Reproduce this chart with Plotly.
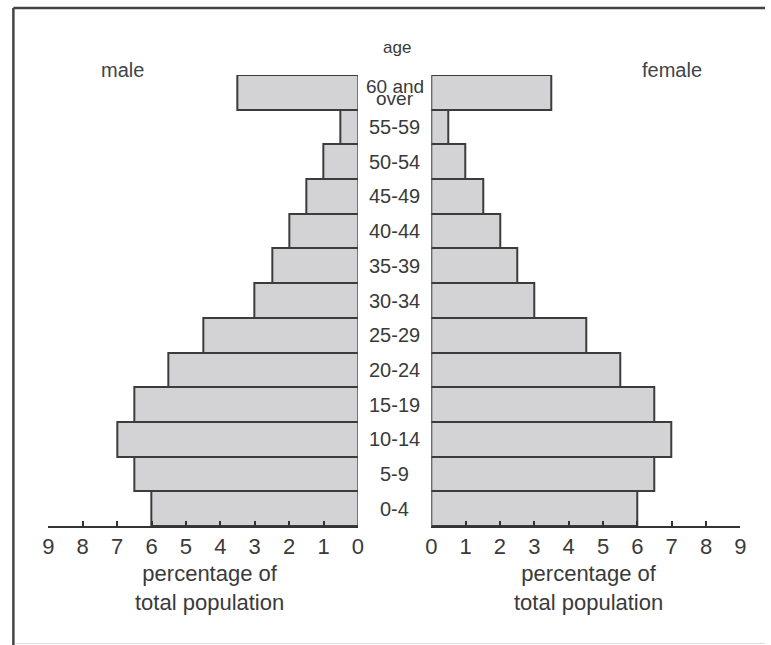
import plotly.graph_objects as go

# Population pyramid: share of total population by age group and sex
age_groups = ["0-4", "5-9", "10-14", "15-19", "20-24", "25-29", "30-34",
              "35-39", "40-44", "45-49", "50-54", "55-59", "60 and over"]
male_pct = [6, 6.5, 7, 6.5, 5.5, 4.5, 3, 2.5, 2, 1.5, 1, 0.5, 3.5]
female_pct = [6, 6.5, 7, 6.5, 5.5, 4.5, 3, 2.5, 2, 1.5, 1, 0.5, 3.5]
tick_values = list(range(10))

W, H = 771, 645
FONT = "Liberation Sans, Arial, sans-serif"
TEXT = "#3a3a3a"
BAR_FILL = "#d3d3d5"
BAR_EDGE = "#3c3c3c"


def px(x):
    return x / W


def py(y):
    return 1 - y / H


def label(x, y, text, size, color=TEXT, yref="paper", yshift=0):
    return dict(x=x, y=y, xref="paper", yref=yref, yshift=yshift,
                text=text, showarrow=False,
                xanchor="center", yanchor="middle",
                font=dict(family=FONT, size=size, color=color))


bar_style = dict(color=BAR_FILL, line=dict(color=BAR_EDGE, width=2))

fig = go.Figure()
fig.add_trace(go.Bar(y=age_groups, x=male_pct, orientation="h",
                     marker=bar_style, xaxis="x", yaxis="y",
                     showlegend=False, hoverinfo="x+y"))
fig.add_trace(go.Bar(y=age_groups, x=female_pct, orientation="h",
                     marker=bar_style, xaxis="x2", yaxis="y",
                     showlegend=False, hoverinfo="x+y"))

axis_common = dict(
    showline=True, linecolor="#333333", linewidth=2,
    ticks="inside", ticklen=5, tickwidth=1.5, tickcolor="#333333",
    tickmode="array", tickvals=tick_values,
    ticktext=[str(v) for v in tick_values],
    tickfont=dict(family=FONT, size=22, color=TEXT),
    showgrid=False, zeroline=False, anchor="y",
)

annotations = []
# age group labels in the centre column
for i, grp in enumerate(age_groups):
    if i == len(age_groups) - 1 and " " in grp:
        first, second = grp.rsplit(" ", 1)
        annotations.append(label(px(395), grp, first, 19, yref="y", yshift=6))
        annotations.append(label(px(395), grp, second, 19, yref="y", yshift=-6))
    else:
        annotations.append(label(px(395), grp, grp, 20, yref="y"))

# headings and axis captions
annotations += [
    label(px(397), py(47), "age", 17),
    label(px(118), py(70), "male", 20, color="#404448"),
    label(px(677), py(70), "female", 20, color="#404448"),
]
for cx in (207, 592):
    annotations.append(label(px(cx), py(588),
                             "percentage of<br>total population", 22))

shapes = [
    # frame: left and top edges, faint bottom edge
    dict(type="line", xref="paper", yref="paper",
         x0=px(7.5), x1=px(7.5), y0=py(645), y1=py(8),
         line=dict(color="#444444", width=2.5)),
    dict(type="line", xref="paper", yref="paper",
         x0=px(7.5), x1=1, y0=py(8), y1=py(8),
         line=dict(color="#444444", width=2.5)),
    dict(type="line", xref="paper", yref="paper",
         x0=px(9), x1=1, y0=py(643.5), y1=py(643.5),
         line=dict(color="#dddddd", width=1)),
]

fig.update_layout(
    width=W, height=H,
    margin=dict(l=0, r=0, t=0, b=0),
    paper_bgcolor="white", plot_bgcolor="rgba(0,0,0,0)",
    barmode="overlay", bargap=0,
    xaxis=dict(domain=[px(43), px(357.5)], range=[9, 0], **axis_common),
    xaxis2=dict(domain=[px(432), px(746)], range=[0, 9], **axis_common),
    yaxis=dict(domain=[py(526), py(75)], range=[-0.5, 12.5],
               type="category", visible=False, fixedrange=True),
    annotations=annotations,
    shapes=shapes,
    font=dict(family=FONT, color=TEXT),
)

fig.write_html("out.html")
